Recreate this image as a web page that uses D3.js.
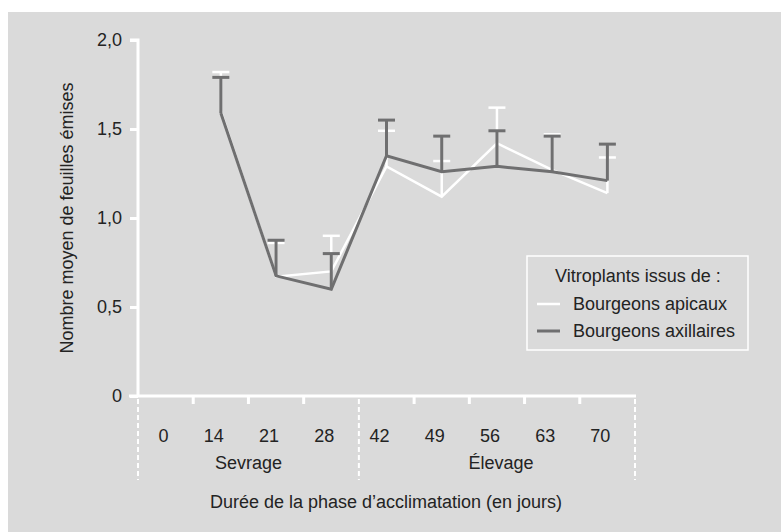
<!DOCTYPE html>
<html><head><meta charset="utf-8">
<script src="https://cdn.jsdelivr.net/npm/d3@7"></script>
<style>
html,body{margin:0;padding:0;background:#fff;}
text{font-family:"Liberation Sans",Arial,sans-serif;fill:#232323;}
</style></head>
<body>
<svg id="c" width="781" height="532"></svg>
<script>
const days = ["0","14","21","28","42","49","56","63","70"];
const apicauxDays = ["14","21","28","42","49","56","63","70"];
const apicauxMean = [1.60, 0.67, 0.70, 1.29, 1.12, 1.42, 1.27, 1.14];
const apicauxUpper = [1.82, 0.86, 0.90, 1.49, 1.32, 1.62, 1.47, 1.34];
const axillairesMean = [1.59, 0.675, 0.60, 1.35, 1.26, 1.29, 1.26, 1.21];
const axillairesUpper = [1.79, 0.875, 0.80, 1.55, 1.46, 1.49, 1.46, 1.415];
const yTicks = [0, 0.5, 1.0, 1.5, 2.0];
const phases = [{name:"Sevrage", from:"0", to:"28"}, {name:"Élevage", from:"42", to:"70"}];

const FS = 18;
const svg = d3.select("#c");
svg.append("rect").attr("x",8).attr("y",12).attr("width",781-8).attr("height",532-12).attr("fill","#dadada");

const x = d3.scaleBand().domain(days).range([138,635]).padding(0);
const y = d3.scaleLinear().domain([0,2]).range([396,40]);
const fmt = v => v===0 ? "0" : d3.format(".1f")(v).replace(".",",");
const dark = "#6f6f70", white = "#ffffff";

// Y axis
const ya = svg.append("g").attr("transform","translate(138,0)")
  .call(d3.axisLeft(y).tickValues(yTicks).tickFormat(fmt).tickSize(8).tickPadding(8));
ya.select(".domain").attr("stroke",white).attr("stroke-width",3).attr("d",`M-8,${y(2)}H0V${y(0)}`);
ya.selectAll(".tick line").attr("stroke",white).attr("stroke-width",3);
ya.selectAll(".tick text").attr("font-size",FS).style("fill","#232323").attr("font-family","Liberation Sans, Arial, sans-serif");

// X axis (band boundaries as ticks)
const xa = svg.append("g").attr("transform",`translate(0,${y(0)})`);
xa.append("line").attr("x1",129).attr("x2",636).attr("y1",0).attr("y2",0).attr("stroke",white).attr("stroke-width",3);
days.forEach((d,i)=>{
  const bx = x(d);
  if (i>0 && d!=="42") xa.append("line").attr("x1",bx).attr("x2",bx).attr("y1",0).attr("y2",8).attr("stroke",white).attr("stroke-width",3);
  xa.append("text").attr("x",bx + x.bandwidth()/2 + 3).attr("y",46).attr("text-anchor","end").attr("font-size",FS).text(d);
});
// dashed separators
const seps = [x("0"), x("42"), x("70")+x.bandwidth()];
seps.forEach(sx=>{
  svg.append("line").attr("x1",sx).attr("x2",sx).attr("y1",y(0)+3).attr("y2",480)
    .attr("stroke",white).attr("stroke-width",2).attr("stroke-dasharray","5,3");
});
phases.forEach(p=>{
  const x0 = x(p.from), x1 = x(p.to)+x.bandwidth();
  svg.append("text").attr("x",(x0+x1)/2 + (p.name==="Élevage"?4:0)).attr("y",469).attr("text-anchor","middle").attr("font-size",FS).text(p.name);
});

// axis titles
svg.append("text").attr("x",386).attr("y",508).attr("text-anchor","middle").attr("font-size",FS)
  .text("Durée de la phase d’acclimatation (en jours)");
svg.append("text").attr("transform",`translate(73,218) rotate(-90)`).attr("text-anchor","middle").attr("font-size",FS)
  .text("Nombre moyen de feuilles émises");

const cx = d => x(d) + x.bandwidth()/2;
const line = d3.line().x(d=>cx(d[0])).y(d=>y(d[1]));

function series(means, upper, color, width){
  const g = svg.append("g");
  const pts = apicauxDays.map((d,i)=>[d,means[i],upper[i]]);
  pts.forEach(p=>{
    g.append("line").attr("x1",cx(p[0])).attr("x2",cx(p[0])).attr("y1",y(p[1])).attr("y2",y(p[2]))
      .attr("stroke",color).attr("stroke-width",width);
    g.append("line").attr("x1",cx(p[0])-8.5).attr("x2",cx(p[0])+8.5).attr("y1",y(p[2])).attr("y2",y(p[2]))
      .attr("stroke",color).attr("stroke-width",width);
  });
  g.append("path").datum(pts).attr("d",line).attr("fill","none").attr("stroke",color).attr("stroke-width",width).attr("stroke-linejoin","miter");
}
series(apicauxMean, apicauxUpper, white, 2.5);
series(axillairesMean, axillairesUpper, dark, 3);

// legend
const lg = svg.append("g");
lg.append("rect").attr("x",527).attr("y",256).attr("width",221).attr("height",94).attr("fill","none").attr("stroke",white).attr("stroke-width",1.5);
lg.append("text").attr("x",638).attr("y",282).attr("text-anchor","middle").attr("font-size",FS).text("Vitroplants issus de :");
const legItems = [["Bourgeons apicaux", white, 2.5],["Bourgeons axillaires", dark, 3]];
legItems.forEach((it,i)=>{
  const ly = 304 + i*27;
  lg.append("line").attr("x1",537).attr("x2",560).attr("y1",ly).attr("y2",ly).attr("stroke",it[1]).attr("stroke-width",it[2]);
  lg.append("text").attr("x",573).attr("y",ly+6).attr("font-size",FS).text(it[0]);
});
</script>
</body></html>
